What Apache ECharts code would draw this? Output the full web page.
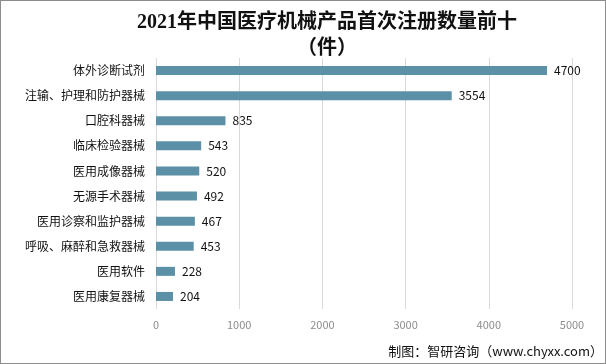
<!DOCTYPE html>
<html>
<head>
<meta charset="utf-8">
<script src="https://cdn.jsdelivr.net/npm/echarts@6/dist/echarts.min.js"></script>
<style>
html,body{margin:0;padding:0;background:#fff;}
#frame{position:absolute;left:0;top:0;width:604px;height:362px;border:1px solid #8c8c8c;}
#chart{position:absolute;left:0;top:0;width:604px;height:362px;}
</style>
</head>
<body>
<div id="frame"><div id="chart"></div></div>
<script>
const titleLine1 = '2021年中国医疗机械产品首次注册数量前十';
const titleLine2 = '（件）';
const categories = ['体外诊断试剂','注输、护理和防护器械','口腔科器械','临床检验器械','医用成像器械','无源手术器械','医用诊察和监护器械','呼吸、麻醉和急救器械','医用软件','医用康复器械'];
const values = [4700, 3554, 835, 543, 520, 492, 467, 453, 228, 204];
const xTicks = [0, 1000, 2000, 3000, 4000, 5000];
const sourceText = '制图：智研咨询（www.chyxx.com）';

const chart = echarts.init(document.getElementById('chart'), null, {renderer:'canvas'});
chart.setOption({
  animation:false,
  grid:{left:155, right:33, top:57, bottom:54, containLabel:false},
  xAxis:{
    type:'value', min:xTicks[0], max:xTicks[xTicks.length-1], interval:1000,
    axisLine:{show:false}, axisTick:{show:false},
    axisLabel:{color:'#8c8c8c', fontSize:11, margin:10, fontFamily:'Noto Sans CJK SC', formatter:function(v){return String(v);}},
    splitLine:{show:true, lineStyle:{color:'#d9d9d9', width:1}}
  },
  yAxis:{
    type:'category', data:categories, inverse:true,
    axisLine:{show:false}, axisTick:{show:false},
    axisLabel:{color:'#111', fontSize:12, margin:11, fontFamily:'Noto Sans CJK SC'}
  },
  series:[{
    type:'bar', data:values, barWidth:9,
    itemStyle:{color:'#5b90a6'},
    label:{show:true, position:'right', distance:7, color:'#111', fontSize:12, fontFamily:'Noto Sans CJK SC'}
  }],
  graphic:[
    {type:'text', x:326, y:22, style:{text:titleLine1, textAlign:'center', textVerticalAlign:'middle', font:'bold 20px "Liberation Serif","Noto Sans CJK SC"', fill:'#111'}},
    {type:'text', x:326, y:48, style:{text:titleLine2, textAlign:'center', textVerticalAlign:'middle', font:'bold 20px "Liberation Serif","Noto Sans CJK SC"', fill:'#111'}},
    {type:'text', right:2, y:344, style:{text:sourceText, font:'13px "Noto Sans CJK SC"', fill:'#111'}}
  ]
});
</script>
</body>
</html>
